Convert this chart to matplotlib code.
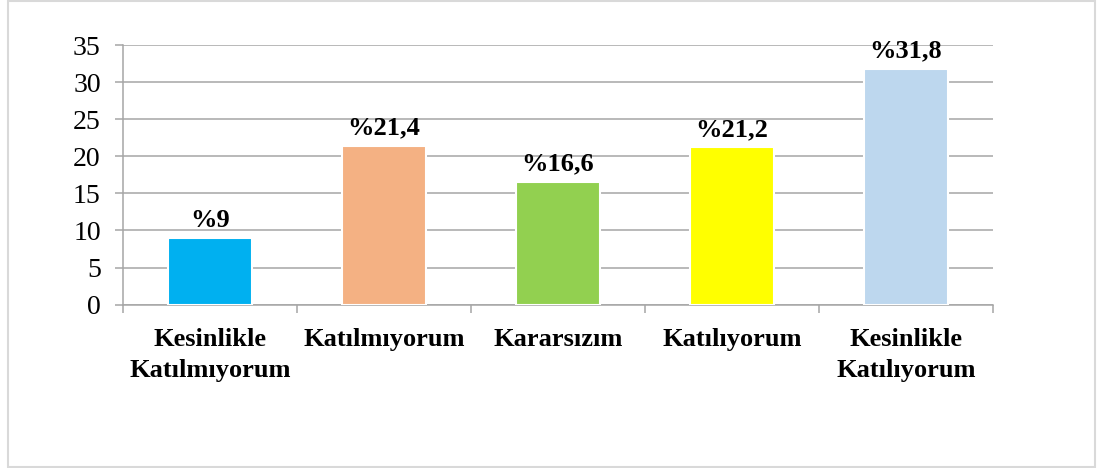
import matplotlib
matplotlib.use("Agg")
import matplotlib.pyplot as plt
from matplotlib.patches import Rectangle
import numpy as np

categories = ["Kesinlikle\nKatılmıyorum", "Katılmıyorum", "Kararsızım", "Katılıyorum", "Kesinlikle\nKatılıyorum"]
values = [9, 21.4, 16.6, 21.2, 31.8]
labels = ["%9", "%21,4", "%16,6", "%21,2", "%31,8"]
colors = ["#00B0F0", "#F4B183", "#92D050", "#FFFF00", "#BDD7EE"]
yticks = [0, 5, 10, 15, 20, 25, 30, 35]

plt.rcParams['font.family'] = ['Liberation Serif', 'DejaVu Serif']

fig = plt.figure(figsize=(10.97, 4.68), dpi=100)
fig.patches.append(Rectangle((0.007, 0.003), 0.991, 0.994, transform=fig.transFigure,
                             fill=False, edgecolor="#d9d9d9", linewidth=1.5))
ax = fig.add_axes([0.1121, 0.349, 0.7931, 0.5548])

x = np.arange(len(categories))
bars = ax.bar(x, values, width=0.48, color=colors, edgecolor="white", linewidth=1.5, zorder=3)
for xi, v, lab in zip(x, values, labels):
    ax.annotate(lab, (xi, v), xytext=(0, 8), textcoords="offset points",
                ha="center", va="baseline", fontsize=19, fontweight="bold", zorder=4)

ax.set_xlim(-0.5, len(categories) - 0.5)
ax.set_ylim(0, 35)
ax.set_yticks(yticks)
ax.yaxis.grid(True, color="#a6a6a6", linewidth=1.1, zorder=0)
ax.set_axisbelow(True)

for s in ["top", "right"]:
    ax.spines[s].set_visible(False)
for s in ["left", "bottom"]:
    ax.spines[s].set_color("#a6a6a6")
    ax.spines[s].set_linewidth(1.1)

ax.set_xticks(x)
ax.set_xticklabels(categories, fontsize=19, fontweight="bold", linespacing=1.42)
ax.set_xticks(np.arange(-0.5, len(categories), 1.0), minor=True)
ax.tick_params(axis="x", which="major", length=0, pad=17)
ax.tick_params(axis="x", which="minor", length=6, color="#a6a6a6", width=1.1)
ax.tick_params(axis="y", length=6, color="#a6a6a6", width=1.1, labelsize=20, pad=10)

fig.savefig("out.png", dpi=100)
